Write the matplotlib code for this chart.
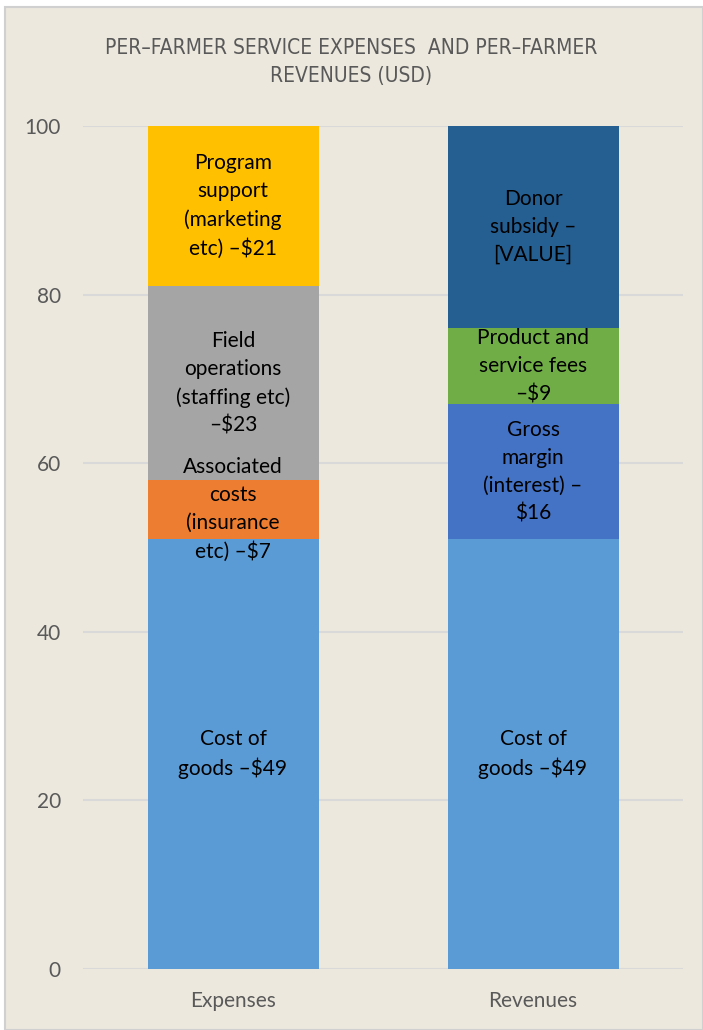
import matplotlib
matplotlib.use("Agg")
import matplotlib.pyplot as plt
from matplotlib.patches import Rectangle

# data
categories = ["Expenses", "Revenues"]
exp_values = [51, 7, 23, 19]
exp_labels = ["Cost of\ngoods \u2013$49",
              "Associated\ncosts\n(insurance\netc) \u2013$7",
              "Field\noperations\n(staffing etc)\n\u2013$23",
              "Program\nsupport\n(marketing\netc) \u2013$21"]
exp_colors = ["#5B9BD5", "#ED7D31", "#A5A5A5", "#FFC000"]
rev_values = [51, 16, 9, 24]
rev_labels = ["Cost of\ngoods \u2013$49",
              "Gross\nmargin\n(interest) \u2013\n$16",
              "Product and\nservice fees\n\u2013$9",
              "Donor\nsubsidy \u2013\n[VALUE]"]
rev_colors = ["#5B9BD5", "#4472C4", "#70AD47", "#255E91"]
yticks = [0, 20, 40, 60, 80, 100]
title = "PER\u2013FARMER SERVICE EXPENSES  AND PER\u2013FARMER\nREVENUES (USD)"

bg = "#ECE8DE"
fig = plt.figure(figsize=(7.03, 10.3), dpi=100, facecolor="white")
fig.patches.append(Rectangle((5/703, 0), 1 - 5/703, 1 - 7/1030, transform=fig.transFigure,
                             facecolor=bg, edgecolor="#D0D0D0", linewidth=1.5, zorder=-5))
ax = fig.add_axes([83/703, 1 - 969/1030, 600/703, (969 - 126)/1030])
ax.set_facecolor("none")

lab_font = ["Lato", "DejaVu Sans"]
for i, (vals, labs, cols) in enumerate([(exp_values, exp_labels, exp_colors),
                                        (rev_values, rev_labels, rev_colors)]):
    bottom = 0
    for v, lab, c in zip(vals, labs, cols):
        ax.bar(i, v, bottom=bottom, width=0.57, color=c, zorder=2)
        ax.text(i, bottom + v / 2, lab, ha="center", va="center", fontsize=15,
                family=lab_font, color="black", linespacing=1.5, zorder=3)
        bottom += v

ax.set_xlim(-0.5, 1.5)
ax.set_ylim(0, 100)
ax.set_yticks(yticks)
ax.set_xticks(range(len(categories)))
ax.set_xticklabels(categories)
ax.grid(axis="y", color="#D9D9D9", linewidth=1.5, zorder=0)
ax.set_axisbelow(True)
for s in ax.spines.values():
    s.set_visible(False)
ax.tick_params(length=0, labelsize=15, labelcolor="#595959")
for t in ax.get_xticklabels() + ax.get_yticklabels():
    t.set_family(lab_font)
ax.tick_params(axis="y", pad=16)
ax.tick_params(axis="x", pad=16)

fig.text(0.5, 1 - 62/1030, title, ha="center", va="center", fontsize=15,
         family="DejaVu Sans", fontstretch="condensed", color="#595959",
         linespacing=1.45)

fig.savefig("out.png", dpi=100, facecolor=fig.get_facecolor())
